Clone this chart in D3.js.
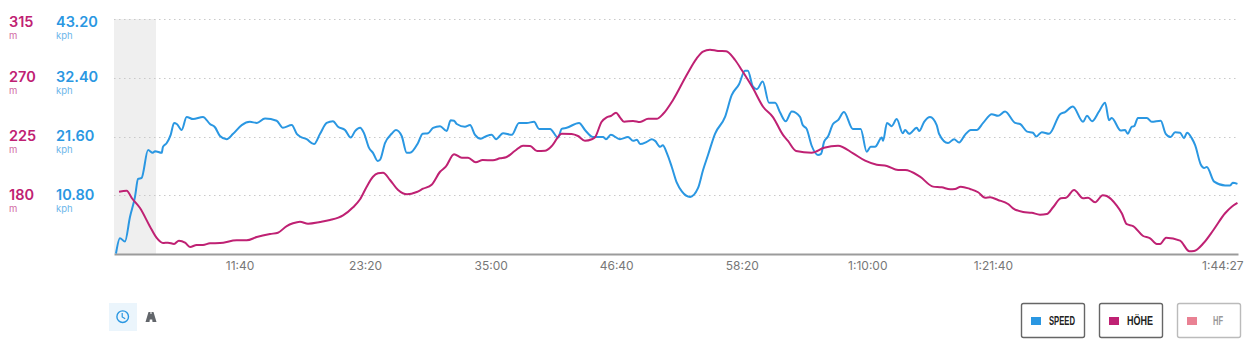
<!DOCTYPE html>
<html><head><meta charset="utf-8">
<script src="https://cdn.jsdelivr.net/npm/d3@7/dist/d3.min.js"></script>
<style>html,body{margin:0;padding:0;background:#fff;overflow:hidden}svg{display:block}</style>
</head><body><svg id="c" width="1257" height="356"></svg>
<script>
const speedTime=[11,33,61,89,117,134,154,190,216,229,266,273,294,316,335,350,377,405,441,496,535,563,591,628,664,712,758,796,842,907,942,991,1019,1037,1074,1115,1149,1186,1221,1249,1288,1320,1344,1372,1394,1422,1444,1470,1483,1511,1548,1572,1604,1632,1650,1695,1721,1751,1779,1818,1855,1877,1896,1911,1957,1985,2013,2045,2078,2106,2130,2169,2218,2258,2301,2342,2370,2431,2476,2496,2524,2593,2626,2671,2727,2743,2770,2821,2866,2894,2916,2933,2970,2998,3017,3045,3060,3082,3110,3138,3166,3212,3256,3284,3312,3351,3407,3444,3485,3518,3534,3562,3584,3617,3652,3686,3714,3745,3779,3825,3840,3862,3890,3925,3942,3959,3981,4009,4037,4070,4119,4163,4197,4219,4243,4281,4288,4310,4336,4364,4398,4411,4433,4476,4489,4517,4550,4587,4600,4650,4684,4712,4745,4777,4810,4846,4894,4929,4968,5024,5052,5091,5124,5141,5173,5214,5275,5303,5346,5403,5425,5453,5492,5526,5548,5563,5613,5637,5652,5675,5688,5709,5759,5786,5836,5864,5892,5916,5944,5966,5983,6009,6028,6060,6078,6093,6134,6195,6223,6238,6264];
const speedValues=[0.1,2.9,2.3,6.8,10.5,13.8,14.0,19.1,18.6,18.9,18.6,19.7,20.4,21.9,24.1,23.9,22.8,25.2,24.8,25.2,23.9,23.3,21.7,21.1,22.1,23.7,24.3,24.1,24.9,24.5,23.2,23.7,22.1,21.6,21.1,20.2,22.1,24.1,24.4,23.4,22.8,21.4,22.6,23.2,22.2,19.5,18.6,17.1,17.3,20.4,22.1,22.8,21.7,18.6,18.6,20.4,22.1,22.2,23.2,23.5,22.6,24.6,24.5,23.9,23.4,23.7,21.9,21.2,21.7,21.9,21.1,22.2,21.9,24.1,24.1,24.3,23.0,23.0,21.4,23.0,23.2,24.1,22.8,21.5,21.5,21.1,21.9,21.1,21.5,20.8,21.0,20.2,20.6,21.1,20.8,19.7,20.0,18.6,16.0,13.1,11.5,10.5,12.1,15.4,18.2,22.1,25.2,29.2,31.2,33.7,33.7,30.8,30.3,31.7,27.8,27.8,26.0,24.4,26.2,25.2,23.7,23.0,19.9,18.2,18.4,20.6,21.6,23.9,24.6,26.1,23.0,23.0,18.8,19.7,19.7,21.4,20.8,24.1,23.5,24.8,22.2,22.8,22.1,23.2,22.6,24.3,25.2,23.7,22.1,20.4,21.1,20.5,21.9,22.8,22.8,24.1,25.7,25.4,26.2,24.1,23.9,22.5,22.3,21.6,22.4,22.1,25.7,26.1,27.1,24.3,25.4,24.4,26.2,27.8,24.6,25.0,22.7,22.8,22.1,23.4,23.5,25.0,25.0,24.3,24.5,22.1,21.5,22.4,22.3,21.3,22.3,21.3,20.0,16.4,15.8,16.0,13.3,12.6,12.6,13.1,12.9];
const elevTime=[28,71,99,145,201,238,273,301,335,362,396,424,461,496,535,591,684,740,796,870,914,963,998,1037,1082,1149,1204,1277,1333,1372,1409,1444,1472,1500,1539,1584,1634,1688,1723,1771,1818,1850,1896,1939,1974,2017,2056,2113,2152,2186,2236,2281,2320,2359,2403,2441,2496,2552,2587,2626,2664,2682,2719,2747,2770,2799,2821,2844,2894,2933,2978,3026,3061,3117,3193,3249,3284,3323,3368,3413,3463,3500,3563,3619,3675,3730,3758,3803,3890,3959,4037,4121,4188,4253,4309,4372,4411,4494,4567,4615,4662,4689,4721,4773,4818,4857,4885,4929,4985,5013,5069,5117,5163,5201,5236,5279,5308,5353,5403,5431,5470,5513,5535,5591,5619,5647,5682,5736,5777,5814,5833,5866,5944,5996,6022,6074,6130,6195,6232,6264];
const elevValues=[182.7,183.5,177.9,170.2,155.9,147.3,143.4,143.7,142.7,145.2,143.7,140.4,141.9,141.9,143.2,143.4,145.5,145.5,148.0,150.3,151.3,156.4,158.5,159.7,158.2,159.5,161.0,164.6,170.8,176.9,186.6,194.2,196.8,197.3,191.7,184.0,180.7,182.5,185.0,188.1,198.0,201.9,211.4,208.8,208.8,205.2,207.0,206.8,208.3,209.1,214.1,218.0,217.7,213.9,214.1,217.7,227.2,226.9,225.4,221.8,222.9,224.4,236.3,239.7,240.7,243.2,239.7,236.3,236.9,236.1,238.6,238.6,242.2,253.0,272.1,284.9,290.0,291.5,290.5,290.3,283.6,275.9,261.9,247.8,239.7,226.2,221.6,213.9,212.6,216.4,218.0,212.1,206.5,203.4,202.4,199.3,199.3,194.2,186.6,186.1,184.6,184.8,186.6,184.8,182.3,178.1,178.4,176.4,173.3,170.0,167.2,166.6,165.1,165.6,170.8,177.7,178.1,184.0,177.7,178.1,174.6,180.0,179.4,172.0,166.2,157.8,156.4,149.0,147.0,142.7,142.7,147.5,145.2,137.1,137.3,143.2,153.4,166.2,171.2,174.1];
const timeTicks=[700,1400,2100,2800,3500,4200,4900,6267];
const timeLabels=["11:40","23:20","35:00","46:40","58:20","1:10:00","1:21:40","1:44:27"];
const speedTicks=[10.8,21.6,32.4,43.2];
const speedLabels=["10.80","21.60","32.40","43.20"];
const elevTicks=[180,225,270,315];
const shadedRange=[0,234];
const legendNames=["SPEED","HÖHE","HF"];

const MAIN="Inter, 'Noto Sans', sans-serif";
const BLUE="#2a97e2", MAG="#bf2173";
const svg=d3.select("#c");
const pL=114,pR=1238,pT=19,pB=254;
const x=d3.scaleLinear().domain([0,6267]).range([pL,pR]);
const yS=d3.scaleLinear().domain([0,43.2]).range([pB,pT]);
const yE=d3.scaleLinear().domain([135,315]).range([pB,pT]);

svg.append("rect").attr("x",x(shadedRange[0])).attr("y",pT).attr("width",x(shadedRange[1])-x(shadedRange[0])).attr("height",pB-pT).attr("fill","#efefef");
svg.append("g").selectAll("line").data(speedTicks).join("line")
  .attr("x1",pL).attr("x2",pR).attr("y1",d=>Math.round(yS(d))+.5).attr("y2",d=>Math.round(yS(d))+.5)
  .attr("stroke","#c9c9c9").attr("stroke-width",1).attr("stroke-dasharray","1.5 3.5");

// x axis
const ax=d3.axisBottom(x).tickValues(timeTicks).tickFormat((d,i)=>timeLabels[i]).tickSize(0).tickPadding(7);
const gx=svg.append("g").attr("transform",`translate(0,${pB})`).call(ax);
gx.select(".domain").attr("stroke","#9b9b9b").attr("stroke-width",2);
gx.selectAll("text").attr("font-family",MAIN).attr("font-size",12).attr("fill","#777")
  .attr("text-anchor",(d,i)=>i==timeTicks.length-1?"end":"middle").attr("dx",(d,i)=>i==timeTicks.length-1?5:0);

// lines
const lineS=d3.line().x((d,i)=>x(speedTime[i])).y(d=>yS(d)).curve(d3.curveMonotoneX);
const lineE=d3.line().x((d,i)=>x(elevTime[i])).y(d=>yE(d)).curve(d3.curveMonotoneX);
svg.append("path").attr("d",lineS(speedValues)).attr("fill","none").attr("stroke",BLUE).attr("stroke-width",2).attr("stroke-linejoin","round");
svg.append("path").attr("d",lineE(elevValues)).attr("fill","none").attr("stroke",MAG).attr("stroke-width",2).attr("stroke-linejoin","round");

// left labels
const lab=(vals,scale,txt,unit,lx,col,ucol)=>{
  const g=svg.append("g").selectAll("g").data(vals).join("g")
    .attr("transform",(d,i)=>`translate(${lx},${scale(d)+(i==3?7.5:4.5)})`);
  g.append("text").text((d,i)=>txt(d,i)).attr("font-family",MAIN).attr("font-size",14.5).attr("font-weight",600).attr("fill",col);
  g.append("text").text(unit).attr("y",12).attr("font-family",MAIN).attr("font-size",9.5).attr("fill",ucol);
};
lab(elevTicks,yE,d=>d,"m",9,MAG,"#d26aa3");
lab(speedTicks,yS,(d,i)=>speedLabels[i],"kph",56,BLUE,"#6cb6ea");

// bottom-left icons
svg.append("rect").attr("x",109).attr("y",303).attr("width",28).attr("height",28).attr("fill","#ebf5fc");
svg.append("circle").attr("cx",122.7).attr("cy",316.7).attr("r",5.8).attr("fill","none").attr("stroke",BLUE).attr("stroke-width",1.4);
svg.append("path").attr("d","M122.2 313v4l3 1.8").attr("fill","none").attr("stroke",BLUE).attr("stroke-width",1.2);
svg.append("path").attr("d","M148.5 312h2v2h1v-2h2l3 10h-4l-.3-2.5h-2.4l-.3 2.5h-4z").attr("fill","#62666b");

// legend
const legendX=[1021.5,1099.5,1177.5];
const legendCol=[BLUE,MAG,"#e98193"];
const legendBorder=["#666","#666","#bbb"];
const legendText=["#222","#222","#999"];
const legendTextX=[1049,1127,1213];
const legendTextW=[26,26,10];
const lg=svg.append("g").selectAll("g").data(legendNames).join("g");
lg.append("rect").attr("x",(d,i)=>legendX[i]).attr("y",303.5).attr("width",63).attr("height",34).attr("rx",2)
  .attr("fill","#fff").attr("stroke",(d,i)=>legendBorder[i]).attr("stroke-width",1.4);
lg.append("rect").attr("x",(d,i)=>legendX[i]+9.5).attr("y",317).attr("width",10).attr("height",8).attr("fill",(d,i)=>legendCol[i]);
lg.append("text").text(d=>d).attr("x",(d,i)=>legendTextX[i]).attr("y",324.5)
  .attr("font-family","'Liberation Sans Narrow','Liberation Sans',sans-serif").attr("font-weight",700).attr("font-size",12.5)
  .attr("textLength",(d,i)=>legendTextW[i]).attr("lengthAdjust","spacingAndGlyphs").attr("fill",(d,i)=>legendText[i]);
</script></body></html>
